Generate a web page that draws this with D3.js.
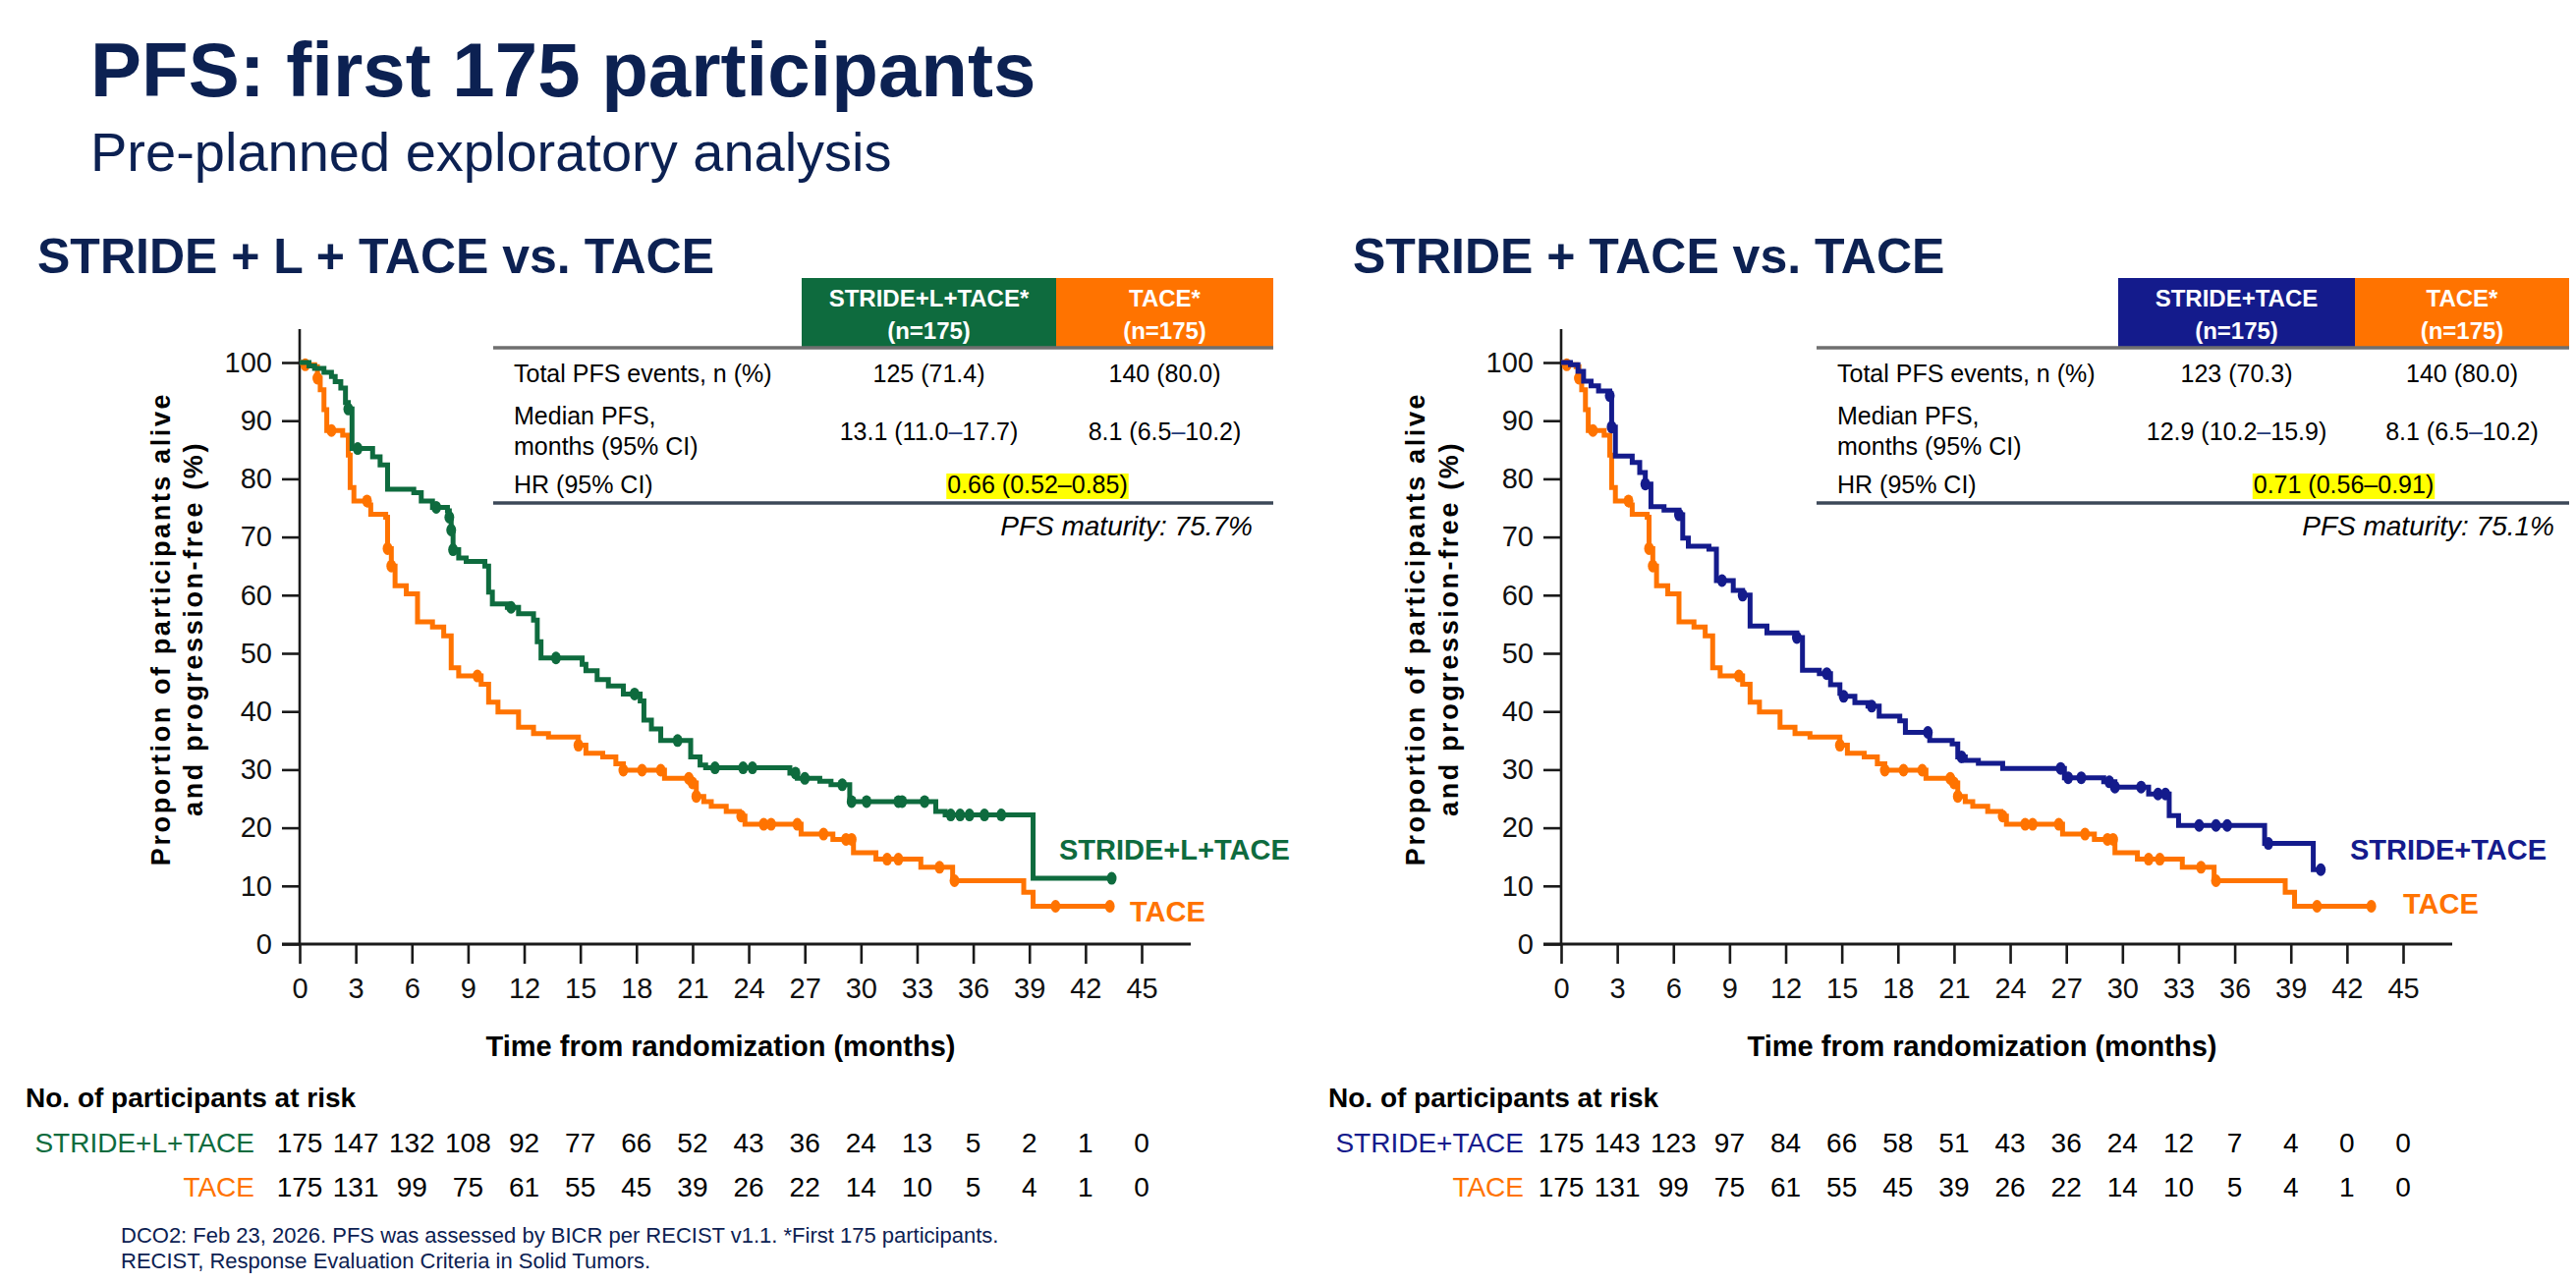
<!DOCTYPE html>
<html>
<head>
<meta charset="utf-8">
<script src="https://cdn.jsdelivr.net/npm/d3@7"></script>
<style>
body { margin: 0; background: #fff; }
svg { display: block; font-family: "Liberation Sans", Arial, Helvetica, sans-serif; }
</style>
</head>
<body>
<svg id="chart" width="2622" height="1306"></svg>
<script>
// axis ticks
var monthTicks = [0, 3, 6, 9, 12, 15, 18, 21, 24, 27, 30, 33, 36, 39, 42, 45];
var pctTicks = [0, 10, 20, 30, 40, 50, 60, 70, 80, 90, 100];

// TACE arm (same first 175 participants in both panels) - [month, % PFS]
var taceSteps = [[0,100],[0.3,99.6],[0.8,99.3],[0.95,97.3],[1.1,95.3],[1.3,91.9],[1.45,88.3],[2.3,87.5],[2.6,84.1],
  [2.7,78.5],[2.9,76.2],[3.7,75.5],[3.8,73.9],[4.6,73.4],[4.7,68],[4.9,65],[5.1,61.6],[5.7,60.2],[6.3,55.4],
  [7.1,54.5],[7.7,53.0],[8.1,47.5],[8.5,46.1],[9.7,44.7],[10.1,41.6],[10.6,39.9],[11.7,37.3],[12.5,36.2],
  [13.3,35.6],[14.9,34.2],[15.3,32.8],[16.2,32.2],[16.9,31.0],[17.3,29.9],[19.5,28.5],[20.9,27.7],[21.2,25.4],
  [21.6,24.5],[22.0,23.7],[22.8,22.8],[23.5,22.0],[23.8,20.6],[26.8,18.9],[28.5,18.0],[29.6,15.7],[30.8,14.6],
  [33.2,13.2],[34.9,10.9],[38.7,8.9],[39.2,6.5]];
var taceCensor = [0.3, 0.95, 1.7, 3.6, 4.7, 4.9, 9.5, 14.9, 17.3, 18.3, 19.3, 20.8, 21.0, 21.2, 23.6, 24.8, 25.2,
  26.6, 28.0, 29.2, 29.5, 31.4, 32.0, 34.2, 35.0, 40.4, 43.3];
var taceEnd = 43.3;
var taceAtRisk = [175, 131, 99, 75, 61, 55, 45, 39, 26, 22, 14, 10, 5, 4, 1, 0];

// STRIDE + L + TACE
var strideLSteps = [[0,100],[0.5,99.4],[0.8,99.0],[1.3,98.3],[1.7,97.6],[1.9,96.7],[2.2,95.6],[2.45,93.1],[2.6,92.0],
  [2.8,85.2],[3.9,83.8],[4.3,82.4],[4.7,78.2],[6.1,77.6],[6.5,76.2],[7.1,75.1],[7.9,74.5],[8.0,73.4],[8.1,71.2],
  [8.2,67.8],[8.5,66.4],[8.9,65.8],[9.9,65.0],[10.1,60.5],[10.3,58.5],[11.1,57.9],[11.7,56.8],[12.5,55.7],
  [12.7,52.0],[12.9,49.2],[15.1,48.1],[15.3,47.0],[15.9,45.5],[16.5,44.4],[17.3,43.0],[18.2,41.8],[18.4,38.5],
  [18.8,37.0],[19.3,35.0],[20.9,32.2],[21.4,30.8],[21.7,30.3],[26.2,29.4],[26.6,28.5],[27.8,28.0],[28.4,27.4],
  [29.4,24.5],[34.0,22.8],[34.5,22.2],[39.2,11.3]];
var strideLCensor = [2.6, 3.1, 7.3, 8.0, 8.1, 8.2, 11.3, 13.7, 17.9, 20.2, 22.2, 23.7, 24.2, 26.5, 27.0, 29.0,
  29.5, 30.3, 32.0, 32.2, 33.4, 34.8, 35.3, 35.8, 36.6, 37.5, 43.4];
var strideLEnd = 43.4;
var strideLAtRisk = [175, 147, 132, 108, 92, 77, 66, 52, 43, 36, 24, 13, 5, 2, 1, 0];

// STRIDE + TACE
var strideSteps = [[0,100],[0.5,99.6],[0.9,98.5],[1.2,96.8],[1.6,96.0],[2.0,95.1],[2.6,94.3],[2.7,88.9],[2.9,83.9],
  [3.8,82.8],[4.2,81.1],[4.5,79.1],[4.8,75.2],[5.5,74.6],[6.3,73.8],[6.5,69.8],[6.8,68.4],[7.9,67.9],[8.3,62.5],
  [9.2,60.8],[9.7,60.0],[10.1,54.7],[11.0,53.5],[12.6,52.7],[12.9,47.1],[13.8,46.5],[14.4,44.6],[14.9,43.1],
  [15.1,42.6],[15.7,41.5],[16.4,40.9],[17.0,39.2],[18.1,38.4],[18.4,36.4],[19.7,35.0],[20.9,34.4],[21.2,32.2],
  [21.6,31.6],[22.3,31.1],[23.6,30.2],[26.9,28.6],[29.0,27.9],[29.6,27.0],[31.4,25.8],[32.5,22.1],[33.0,20.4],
  [37.6,17.3],[40.2,12.8]];
var strideCensor = [2.6, 2.7, 4.5, 6.3, 8.6, 9.7, 12.6, 14.2, 15.1, 16.6, 19.6, 21.4, 26.7, 27.1, 27.8, 29.3,
  29.6, 31.0, 31.9, 32.3, 34.1, 35.0, 35.6, 37.8, 40.6];
var strideEnd = 40.6;
var strideAtRisk = [175, 143, 123, 97, 84, 66, 58, 51, 43, 36, 24, 12, 7, 4, 0, 0];

// summary tables
var rowLabels = ["Total PFS events, n (%)", "Median PFS,|months (95% CI)", "HR (95% CI)"];
var leftEvents = ["125 (71.4)", "140 (80.0)"];
var leftMedian = ["13.1 (11.0–17.7)", "8.1 (6.5–10.2)"];
var leftHR = "0.66 (0.52–0.85)";
var leftMaturity = "PFS maturity: 75.7%";
var rightEvents = ["123 (70.3)", "140 (80.0)"];
var rightMedian = ["12.9 (10.2–15.9)", "8.1 (6.5–10.2)"];
var rightHR = "0.71 (0.56–0.91)";
var rightMaturity = "PFS maturity: 75.1%";

var navy = "#0c2152";
var orange = "#ff7300";
var green = "#0e6b3e";
var blue = "#141b8c";

var svg = d3.select("#chart");
svg.append("rect").attr("width", 2622).attr("height", 1306).attr("fill", "#fff");

// titles
svg.append("text").attr("x", 92).attr("y", 98)
  .style("font-size", "78px").style("font-weight", "bold").attr("fill", navy)
  .text("PFS: first 175 participants");
svg.append("text").attr("x", 92).attr("y", 174)
  .style("font-size", "56px").attr("fill", navy)
  .text("Pre-planned exploratory analysis");

var panels = [
  {axisX: 305, endX: 1162, headX: 38, head: "STRIDE + L + TACE vs. TACE",
   tabX0: 502, col1: [816, 1075], col2: [1075, 1296], matX: 1275,
   armName: "STRIDE+L+TACE", armHeader: "STRIDE+L+TACE*", armColor: green,
   steps: strideLSteps, censor: strideLCensor, end: strideLEnd, atRisk: strideLAtRisk,
   events: leftEvents, median: leftMedian, hr: leftHR, maturity: leftMaturity,
   armLabel: [1078, 875], taceLabel: [1150, 938], yTitle: [164, 197],
   riskHeadX: 26, riskLabelX: 259},
  {axisX: 1589, endX: 2446, headX: 1377, head: "STRIDE + TACE vs. TACE",
   tabX0: 1849, col1: [2156, 2397], col2: [2397, 2615], matX: 2600,
   armName: "STRIDE+TACE", armHeader: "STRIDE+TACE", armColor: blue,
   steps: strideSteps, censor: strideCensor, end: strideEnd, atRisk: strideAtRisk,
   events: rightEvents, median: rightMedian, hr: rightHR, maturity: rightMaturity,
   armLabel: [2392, 875], taceLabel: [2446, 930], yTitle: [1441, 1475],
   riskHeadX: 1352, riskLabelX: 1551}
];

function survAt(steps, t) {
  var s = steps[0][1];
  for (var i = 0; i < steps.length; i++) {
    if (steps[i][0] <= t) s = steps[i][1];
  }
  return s;
}

function valueText(sel, str) {
  //en dash drawn in dark blue like the slide
  var parts = str.split("–");
  sel.append("tspan").text(parts[0]);
  if (parts.length > 1) {
    sel.append("tspan").attr("fill", "#1f3a78").text("–");
    sel.append("tspan").text(parts[1]);
  }
}

panels.forEach(function(p) {
  var g = svg.append("g");

  var x = d3.scaleLinear().domain([0, 45]).range([p.axisX, p.endX]);
  var y = d3.scaleLinear().domain([0, 100]).range([961, 369]);

  g.append("text").attr("x", p.headX).attr("y", 278)
    .style("font-size", "50px").style("font-weight", "bold").attr("fill", navy)
    .text(p.head);

  // axes
  var yAxis = d3.axisLeft(y).tickValues(pctTicks).tickSize(18).tickPadding(10);
  var gy = g.append("g").attr("transform", "translate(" + p.axisX + ",0)").call(yAxis);
  var xAxis = d3.axisBottom(x).tickValues(monthTicks).tickSize(20).tickPadding(14);
  var gx = g.append("g").attr("transform", "translate(0," + y(0) + ")").call(xAxis);
  [gx, gy].forEach(function(a) {
    a.select(".domain").remove();
    a.selectAll(".tick line").attr("stroke", "#1a1a1a").attr("stroke-width", 2.6);
    a.selectAll(".tick text").style("font-size", "29px").attr("fill", "#111")
      .style("font-family", "'Liberation Sans', Arial, sans-serif");
  });
  g.append("line").attr("x1", p.axisX).attr("x2", p.axisX).attr("y1", y(100) - 34).attr("y2", y(0))
    .attr("stroke", "#1a1a1a").attr("stroke-width", 2.6);
  g.append("line").attr("x1", p.axisX - 18).attr("x2", p.endX + 50).attr("y1", y(0)).attr("y2", y(0))
    .attr("stroke", "#1a1a1a").attr("stroke-width", 3);

  g.append("text").attr("x", (p.axisX + p.endX) / 2).attr("y", 1075).attr("text-anchor", "middle")
    .style("font-size", "29px").style("font-weight", "bold").attr("fill", "#000")
    .text("Time from randomization (months)");

  ["Proportion of participants alive", "and progression-free (%)"].forEach(function(t, i) {
    g.append("text")
      .attr("transform", "translate(" + p.yTitle[i] + ",640) rotate(-90)")
      .attr("text-anchor", "middle").attr("dy", "0.35em")
      .style("font-size", "27px").style("font-weight", "bold").style("letter-spacing", "2.6px")
      .attr("fill", "#000").text(t);
  });

  // curves
  var line = d3.line().curve(d3.curveStepAfter)
    .x(function(d) { return x(d[0]); })
    .y(function(d) { return y(d[1]); });

  var curves = [
    {steps: taceSteps, censor: taceCensor, end: taceEnd, color: orange},
    {steps: p.steps, censor: p.censor, end: p.end, color: p.armColor}
  ];
  curves.forEach(function(c) {
    var pts = c.steps.concat([[c.end, c.steps[c.steps.length - 1][1]]]);
    g.append("path").datum(pts)
      .attr("fill", "none").attr("stroke", c.color).attr("stroke-width", 5)
      .attr("stroke-linejoin", "miter").attr("d", line);
    g.selectAll(null).data(c.censor).enter().append("ellipse")
      .attr("cx", function(d) { return x(d); })
      .attr("cy", function(d) { return y(survAt(c.steps, d)); })
      .attr("rx", 5).attr("ry", 6.5)
      .attr("fill", c.color);
  });

  g.append("text").attr("x", p.armLabel[0]).attr("y", p.armLabel[1])
    .style("font-size", "29px").style("font-weight", "bold").attr("fill", p.armColor).text(p.armName);
  g.append("text").attr("x", p.taceLabel[0]).attr("y", p.taceLabel[1])
    .style("font-size", "29px").style("font-weight", "bold").attr("fill", orange).text("TACE");

  // summary table
  var heads = [{c: p.col1, fill: p.armColor, t: p.armHeader}, {c: p.col2, fill: orange, t: "TACE*"}];
  heads.forEach(function(h) {
    g.append("rect").attr("x", h.c[0]).attr("y", 283).attr("width", h.c[1] - h.c[0]).attr("height", 70)
      .attr("fill", h.fill);
    var cx = (h.c[0] + h.c[1]) / 2;
    g.append("text").attr("x", cx).attr("y", 312).attr("text-anchor", "middle")
      .style("font-size", "24px").style("font-weight", "bold").attr("fill", "#fff").text(h.t);
    g.append("text").attr("x", cx).attr("y", 345).attr("text-anchor", "middle")
      .style("font-size", "24px").style("font-weight", "bold").attr("fill", "#fff").text("(n=175)");
  });
  g.append("line").attr("x1", p.tabX0).attr("x2", p.col2[1]).attr("y1", 354).attr("y2", 354)
    .attr("stroke", "#6f6f6f").attr("stroke-width", 3.5);
  g.append("line").attr("x1", p.tabX0).attr("x2", p.col2[1]).attr("y1", 512).attr("y2", 512)
    .attr("stroke", "#3c4858").attr("stroke-width", 3.5);

  var lx = p.tabX0 + 21;
  var c1 = (p.col1[0] + p.col1[1]) / 2, c2 = (p.col2[0] + p.col2[1]) / 2;
  var fs = "25px";
  g.append("text").attr("x", lx).attr("y", 389).style("font-size", fs).text(rowLabels[0]);
  rowLabels[1].split("|").forEach(function(t, i) {
    g.append("text").attr("x", lx).attr("y", 432 + i * 31).style("font-size", fs).text(t);
  });
  g.append("text").attr("x", lx).attr("y", 502).style("font-size", fs).text(rowLabels[2]);

  p.events.forEach(function(v, i) {
    g.append("text").attr("x", i ? c2 : c1).attr("y", 389).attr("text-anchor", "middle")
      .style("font-size", fs).text(v);
  });
  p.median.forEach(function(v, i) {
    valueText(g.append("text").attr("x", i ? c2 : c1).attr("y", 448).attr("text-anchor", "middle")
      .style("font-size", fs), v);
  });
  var hrText = g.append("text").attr("x", (p.col1[0] + p.col2[1]) / 2).attr("y", 502)
    .attr("text-anchor", "middle").style("font-size", fs).text(p.hr);
  var bb = hrText.node().getBBox();
  g.insert("rect", function() { return hrText.node(); })
    .attr("x", bb.x - 1).attr("y", 482).attr("width", bb.width + 2).attr("height", 26)
    .attr("fill", "#ffff00");

  g.append("text").attr("x", p.matX).attr("y", 545).attr("text-anchor", "end")
    .style("font-size", "28px").style("font-style", "italic").attr("fill", "#000").text(p.maturity);

  // numbers at risk
  g.append("text").attr("x", p.riskHeadX).attr("y", 1127)
    .style("font-size", "28px").style("font-weight", "bold").text("No. of participants at risk");
  var rows = [{name: p.armName, color: p.armColor, vals: p.atRisk, y: 1173},
              {name: "TACE", color: orange, vals: taceAtRisk, y: 1218}];
  rows.forEach(function(r) {
    g.append("text").attr("x", p.riskLabelX).attr("y", r.y).attr("text-anchor", "end")
      .style("font-size", "28px").attr("fill", r.color).text(r.name);
    g.selectAll(null).data(r.vals).enter().append("text")
      .attr("x", function(d, i) { return x(monthTicks[i]); })
      .attr("y", r.y).attr("text-anchor", "middle")
      .style("font-size", "28px").attr("fill", "#000")
      .text(function(d) { return d; });
  });
});

// footnote
svg.append("text").attr("x", 123).attr("y", 1265).style("font-size", "22px").attr("fill", navy)
  .text("DCO2: Feb 23, 2026. PFS was assessed by BICR per RECIST v1.1. *First 175 participants.");
svg.append("text").attr("x", 123).attr("y", 1291).style("font-size", "22px").attr("fill", navy)
  .text("RECIST, Response Evaluation Criteria in Solid Tumors.");
</script>
</body>
</html>
